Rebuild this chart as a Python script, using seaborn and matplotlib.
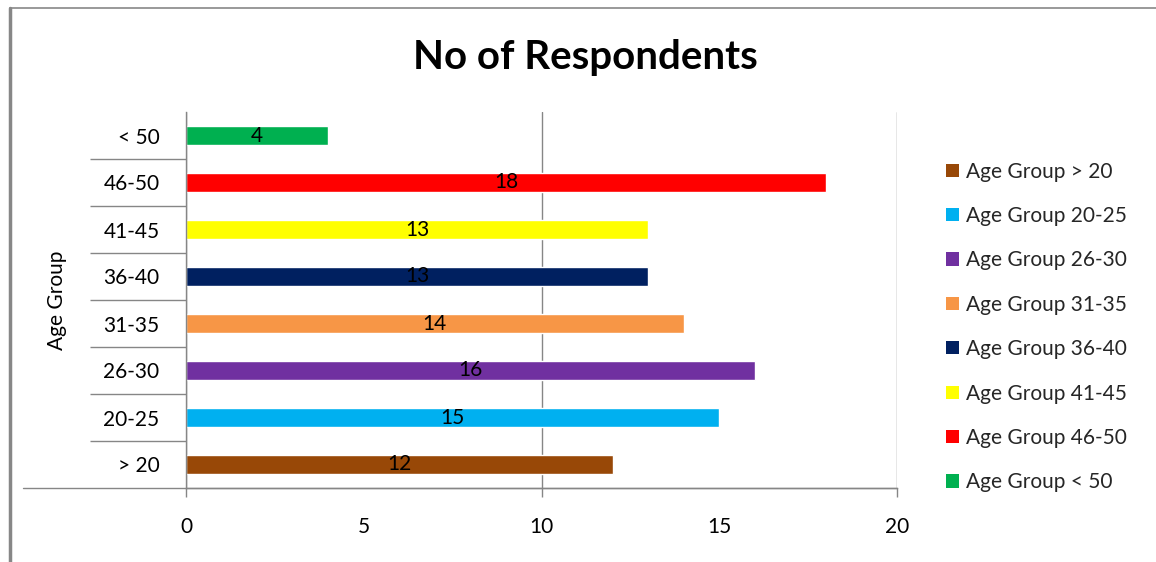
import matplotlib
matplotlib.use("Agg")
import matplotlib.pyplot as plt
from matplotlib.lines import Line2D
from matplotlib.patches import Patch
from matplotlib.ticker import FixedLocator
import seaborn as sns
import pandas as pd

# Survey data: respondents per age group
age_groups = ["> 20", "20-25", "26-30", "31-35", "36-40", "41-45", "46-50", "< 50"]
respondents = [12, 15, 16, 14, 13, 13, 18, 4]
bar_colors = ["#984807", "#00B0F0", "#7030A0", "#F79646",
              "#002060", "#FFFF00", "#FF0000", "#00B050"]
x_ticks = [0, 5, 10, 15, 20]
title = "No of Respondents"
y_title = "Age Group"
legend_prefix = "Age Group "

sns.set_theme(style="white")
plt.rcParams["font.family"] = ["Lato", "DejaVu Sans"]

df = pd.DataFrame({
    "group": age_groups,
    "count": respondents,
    "series": [legend_prefix + g for g in age_groups],
})
series_order = list(df["series"])
palette = dict(zip(series_order, bar_colors))

fig = plt.figure(figsize=(11.56, 5.62), dpi=100)
ax = fig.add_axes([186 / 1156, 1 - 488 / 562, 711 / 1156, 376 / 562])

sns.barplot(data=df, y="group", x="count", hue="series",
            order=age_groups[::-1], hue_order=series_order,
            palette=palette, dodge=False, width=0.4, orient="h",
            saturation=1, legend=False, ax=ax)

for cont in ax.containers:
    ax.bar_label(cont, fmt="%d", label_type="center", fontsize=15, color="black")

grey = "#868686"
ax.set_xlim(0, 20)
ax.set_ylim(len(age_groups) - 0.5, -0.5)

# x axis: labels every 5, tick marks and gridlines every 10
ax.xaxis.set_major_locator(FixedLocator(x_ticks))
ax.xaxis.set_minor_locator(FixedLocator([0, 10, 20]))
ax.xaxis.remove_overlapping_locs = False
ax.tick_params(axis="x", which="major", bottom=True, length=0, pad=21,
               labelsize=15, labelcolor="black")
ax.tick_params(axis="x", which="minor", bottom=True, length=6.5, width=1,
               color=grey, direction="out")
ax.grid(which="minor", axis="x", color=grey, linewidth=1)
ax.grid(which="major", axis="x", visible=False)

# y axis: category separators as long outward ticks
ax.yaxis.set_minor_locator(FixedLocator([i + 0.5 for i in range(len(age_groups) - 1)]))
ax.tick_params(axis="y", which="major", left=True, length=0, pad=19,
               labelsize=15, labelcolor="black")
ax.tick_params(axis="y", which="minor", left=True, length=69, width=1,
               color=grey, direction="out")
ax.set_xlabel("")
ax.set_ylabel(y_title, fontsize=15, color="black")
ax.yaxis.set_label_coords(-(186 - 67) / 711, 0.5)

for side in ["top", "right"]:
    ax.spines[side].set_visible(False)
for side in ["left", "bottom"]:
    ax.spines[side].set_color(grey)
    ax.spines[side].set_linewidth(1)
# bottom axis line runs out to the left edge of the label column
ax.axhline(len(age_groups) - 0.5, xmin=(23 - 186) / 711, xmax=1,
           color=grey, linewidth=1, clip_on=False)

handles = [Patch(facecolor=c, edgecolor="none") for c in bar_colors]
fig.legend(handles, series_order, loc="center left",
           bbox_to_anchor=(936 / 1156, 1 - 327 / 562), frameon=False,
           fontsize=15, handlelength=0.6, handleheight=0.6,
           handletextpad=0.35, labelspacing=1.17, borderpad=0)

fig.text(585 / 1156, 1 - 57 / 562, title, ha="center", va="center",
         fontsize=29, fontweight="bold", color="black")

# chart frame
fig.add_artist(Line2D([10 / 1156, 10 / 1156], [0, 1 - 8 / 562],
                      transform=fig.transFigure, color="#878787", linewidth=2.5))
fig.add_artist(Line2D([10 / 1156, 1], [1 - 8 / 562, 1 - 8 / 562],
                      transform=fig.transFigure, color="#878787", linewidth=1.2))

fig.savefig("out.png", dpi=100, facecolor="white")
